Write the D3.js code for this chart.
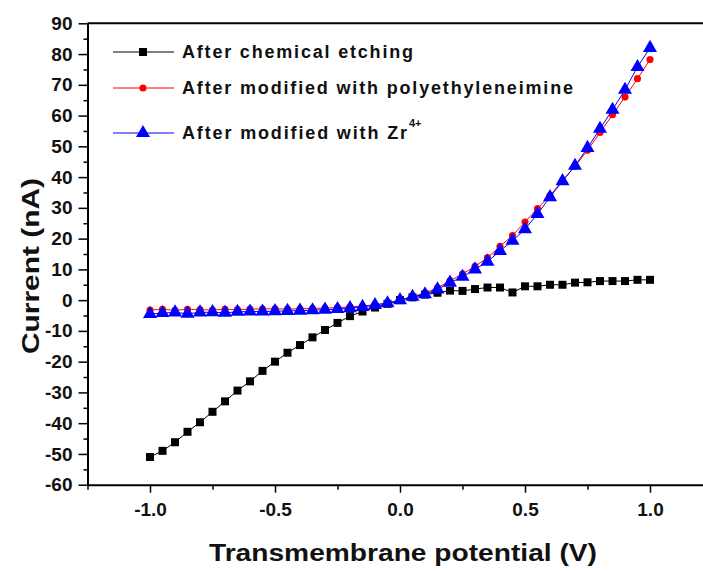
<!DOCTYPE html>
<html>
<head>
<meta charset="utf-8">
<script src="https://cdn.jsdelivr.net/npm/d3@7"></script>
<style>
	body { margin: 0; background: #fff; }
	svg text { font-family: "Liberation Sans", Arial, sans-serif; }
</style>
</head>
<body>
<div id="main"></div>
<script>
// voltage sweep, -1.0 .. 1.0 V in 0.05 V steps
var potential = [-1.0,-0.95,-0.9,-0.85,-0.8,-0.75,-0.7,-0.65,-0.6,-0.55,-0.5,-0.45,-0.4,-0.35,-0.3,-0.25,-0.2,-0.15,-0.1,-0.05,
	0.0,0.05,0.1,0.15,0.2,0.25,0.3,0.35,0.4,0.45,0.5,0.55,0.6,0.65,0.7,0.75,0.8,0.85,0.9,0.95,1.0];

var etched = [-51.0,-49.0,-46.2,-42.8,-39.7,-36.3,-32.9,-29.4,-26.4,-23.0,-20.0,-17.1,-14.6,-12.1,-9.7,-7.4,-5.2,-3.7,-2.4,-1.2,
	0.0,0.9,1.8,2.4,3.1,3.0,3.6,4.1,4.1,2.5,4.5,4.5,5.0,5.0,5.7,5.8,6.2,6.2,6.2,6.6,6.6];

var pei = [-3.2,-3.0,-3.3,-3.0,-3.1,-3.2,-3.0,-3.1,-2.9,-2.9,-2.8,-2.9,-2.8,-2.7,-2.6,-2.4,-2.2,-1.9,-1.5,-0.9,
	0.0,1.2,2.3,4.0,6.3,8.5,11.0,13.8,17.5,21.0,25.4,29.8,34.0,38.8,43.5,48.7,54.5,60.3,66.0,72.0,78.2];

var zr = [-4.5,-4.2,-4.0,-4.4,-4.0,-3.9,-4.1,-3.8,-3.7,-3.7,-3.6,-3.5,-3.4,-3.3,-3.1,-2.9,-2.6,-2.2,-1.6,-1.0,
	0.0,1.1,1.9,3.5,5.7,7.6,10.0,12.5,16.0,19.3,23.1,28.0,33.5,38.7,43.7,49.5,55.7,61.9,68.4,75.8,82.0];

var xTicks = [-1.0,-0.5,0.0,0.5,1.0];
var xMinor = [-1.25,-0.75,-0.25,0.25,0.75,1.25];
var yTicks = [-60,-50,-40,-30,-20,-10,0,10,20,30,40,50,60,70,80,90];

var seriesNames = ["After chemical etching","After modified with polyethyleneimine","After modified with Zr"];
var seriesColors = ["#000000","#ff0000","#0000ff"];
var seriesShapes = [d3.symbolSquare, d3.symbolCircle, d3.symbolTriangle];
var seriesSizes = [64, 40, 85];

var chart = (function(){
	"use strict";

	var width = 703, height = 572;
	var svg = d3.select("#main").append("svg").attr("width",width).attr("height",height);

	var x = d3.scaleLinear().domain([-1.25,1.25]).range([87.5,712.5]);
	var y = d3.scaleLinear().domain([-60,90]).range([484.7,23.3]);

	// plain hyphen for negatives, like the original
	function fmt(spec){
		var f = d3.format(spec);
		return function(d){ return f(d).replace("\u2212","-"); };
	}

	function draw_axes(){
		// minor ticks first, no labels
		svg.append("g").attr("transform","translate(0,"+y(-60)+")")
			.call(d3.axisBottom(x).tickValues(xMinor).tickSize(5).tickFormat(""))
			.call(function(g){ g.select(".domain").remove(); g.selectAll("line").attr("stroke-width",1.5); });
		svg.append("g").attr("transform","translate("+x(-1.25)+",0)")
			.call(d3.axisLeft(y).tickValues(d3.range(-55,90,10)).tickSize(4).tickFormat(""))
			.call(function(g){ g.select(".domain").remove(); g.selectAll("line").attr("stroke-width",1.5); });

		var gx = svg.append("g").attr("transform","translate(0,"+y(-60)+")")
			.call(d3.axisBottom(x).tickValues(xTicks).tickSize(8).tickSizeOuter(0).tickPadding(10).tickFormat(fmt(".1f")));
		gx.select(".domain").attr("stroke-width",2);
		gx.selectAll("line").attr("stroke-width",1.5);
		gx.selectAll("text").attr("font-size",19).attr("font-weight","bold").attr("fill","#111");

		var gy = svg.append("g").attr("transform","translate("+x(-1.25)+",0)")
			.call(d3.axisLeft(y).tickValues(yTicks).tickSize(9).tickSizeOuter(0).tickPadding(6).tickFormat(fmt("d")));
		gy.select(".domain").attr("stroke-width",2);
		gy.selectAll("line").attr("stroke-width",1.5);
		gy.selectAll("text").attr("font-size",19).attr("font-weight","bold").attr("fill","#111");

		// top frame line
		svg.append("line").attr("x1",x(-1.25)).attr("x2",width).attr("y1",y(90)).attr("y2",y(90))
			.attr("stroke","#000").attr("stroke-width",2);

		svg.append("text").attr("x",403).attr("y",561).attr("text-anchor","middle")
			.attr("font-size",23).attr("font-weight","bold").attr("fill","#111")
			.attr("textLength",388).attr("lengthAdjust","spacingAndGlyphs")
			.text("Transmembrane potential (V)");
		svg.append("text").attr("transform","translate(39,266) rotate(-90)").attr("text-anchor","middle")
			.attr("font-size",23).attr("font-weight","bold").attr("fill","#111")
			.attr("textLength",176).attr("lengthAdjust","spacingAndGlyphs")
			.text("Current (nA)");
	}

	function draw_series(values,i){
		var pts = potential.map(function(v,k){ return [v, values[k]]; });
		var line = d3.line().x(function(d){ return x(d[0]); }).y(function(d){ return y(d[1]); });
		svg.append("path").datum(pts).attr("d",line)
			.attr("fill","none").attr("stroke",seriesColors[i]).attr("stroke-width",1);
		var sym = d3.symbol().type(seriesShapes[i]).size(seriesSizes[i]);
		svg.append("g").selectAll("path").data(pts).enter().append("path")
			.attr("d",sym)
			.attr("transform",function(d){ return "translate("+x(d[0])+","+y(d[1])+")"; })
			.attr("fill",seriesColors[i]);
	}

	function draw_legend(){
		var rows = [52,88,133];
		var widths = [231,391,225];
		var lg = svg.append("g");
		seriesNames.forEach(function(name,i){
			lg.append("line").attr("x1",113).attr("x2",174).attr("y1",rows[i]).attr("y2",rows[i])
				.attr("stroke",seriesColors[i]).attr("stroke-width",1);
			lg.append("path").attr("d",d3.symbol().type(seriesShapes[i]).size(seriesSizes[i])())
				.attr("transform","translate(143,"+rows[i]+")").attr("fill",seriesColors[i]);
			lg.append("text").attr("x",182).attr("y",rows[i]+6)
				.attr("font-size",18).attr("font-weight","bold").attr("fill","#111")
				.attr("textLength",widths[i]).attr("lengthAdjust","spacing")
				.text(name);
			if (i === 2)
				lg.append("text").attr("x",182+widths[i]+2).attr("y",rows[i]-6)
					.attr("font-size",11).attr("font-weight","bold").attr("fill","#111").text("4+");
		});
	}

	draw_axes();
	draw_series(etched,0);
	draw_series(pei,1);
	draw_series(zr,2);
	draw_legend();

	return { svg : svg, x : x, y : y };
})();
</script>
</body>
</html>
